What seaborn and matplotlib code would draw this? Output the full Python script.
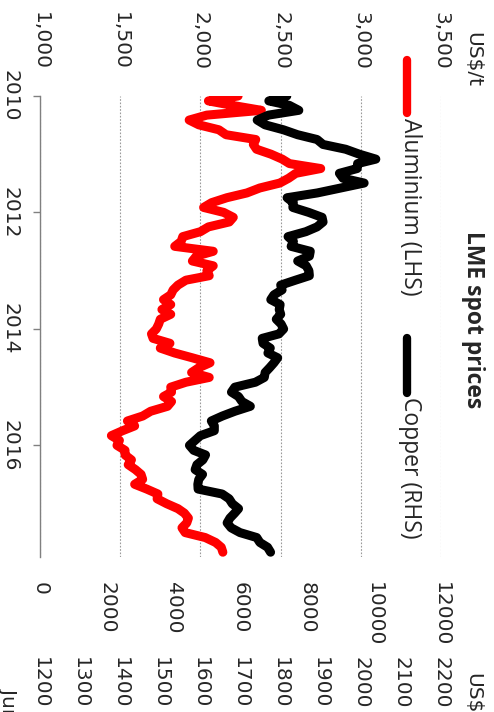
import matplotlib
matplotlib.use("Agg")
import pandas as pd
import seaborn as sns
import matplotlib.pyplot as plt
import matplotlib.dates as mdates
from matplotlib.lines import Line2D

# monthly LME spot prices, Jan 2010 - Nov 2017
months = pd.date_range("2010-01-01", "2017-11-01", freq="MS")

aluminium = [
    2235, 2050, 2200, 2380, 2040, 1930, 1990, 2115, 2160, 2345, 2330, 2350,
    2440, 2510, 2555, 2750, 2595, 2550, 2495, 2370, 2290, 2165, 2070, 2020,
    2145, 2205, 2180, 2050, 2000, 1890, 1880, 1840, 2080, 1975, 1950, 2080,
    2040, 2055, 1910, 1860, 1830, 1815, 1770, 1815, 1760, 1815, 1750, 1740,
    1725, 1695, 1705, 1810, 1750, 1840, 1950, 2060, 1990, 1945, 2055, 1910,
    1815, 1820, 1770, 1820, 1795, 1690, 1640, 1545, 1590, 1515, 1445, 1495,
    1480, 1530, 1530, 1570, 1550, 1595, 1630, 1640, 1590, 1665, 1735, 1730,
    1790, 1860, 1900, 1925, 1915, 1885, 1905, 2030, 2095, 2130, 2140,
]

copper = [
    7386, 6848, 7463, 7745, 6838, 6499, 6735, 7284, 7709, 8292, 8470, 9147,
    9556, 10050, 9503, 9493, 8960, 9067, 9700, 9000, 8300, 7394, 7581, 7566,
    8040, 8441, 8471, 8289, 7955, 7423, 7584, 7515, 8088, 8062, 7711, 7966,
    8047, 8061, 7646, 7203, 7245, 7000, 6906, 7186, 7159, 7203, 7071, 7215,
    7291, 7149, 6650, 6674, 6891, 6821, 7113, 7002, 6872, 6737, 6712, 6446,
    5831, 5729, 5940, 6042, 6295, 5833, 5457, 5127, 5217, 5216, 4800, 4638,
    4472, 4599, 4954, 4873, 4696, 4642, 4864, 4751, 4723, 4731, 5450, 5660,
    5755, 5941, 5825, 5684, 5600, 5720, 5985, 6485, 6580, 6810, 6900,
]

alu_ticks = [1000, 1500, 2000, 2500, 3000, 3500]
cu_ticks = [0, 2000, 4000, 6000, 8000, 10000, 12000]
next_ticks = [1200, 1300, 1400, 1500, 1600, 1700, 1800, 1900, 2000, 2100, 2200]
year_labels = ["2010", "2012", "2014", "2016"]

df = pd.DataFrame({"date": months, "aluminium": aluminium, "copper": copper})

sns.set_theme(style="white")
plt.rcParams["font.family"] = ["DejaVu Sans"]
TXT = ["Open Sans", "DejaVu Sans"]
FS = 14.5
GREY = "#808080"

fig = plt.figure(figsize=(4.94, 7.12), dpi=100)
ax = fig.add_axes([0.081, 0.2177, 0.8117, 0.6475])
ax2 = ax.twiny()

line_kw = dict(lw=6.5, solid_capstyle="round", solid_joinstyle="round")
sns.lineplot(data=df, x="aluminium", y="date", orient="y", sort=False,
             estimator=None, color="red", legend=False, ax=ax, **line_kw)
sns.lineplot(data=df, x="copper", y="date", orient="y", sort=False,
             estimator=None, color="black", legend=False, ax=ax2, **line_kw)

# time runs downwards (the chart is turned a quarter turn)
ax.set_ylim(mdates.date2num(pd.Timestamp("2017-12-01")),
            mdates.date2num(pd.Timestamp("2010-01-01")))
ax.set_yticks(mdates.date2num(pd.to_datetime(year_labels)))
ax.set_yticklabels(year_labels)
ax.tick_params(axis="y", left=True, length=5, width=1, color=GREY, pad=10,
               labelsize=FS, labelrotation=-90)
for t in ax.get_yticklabels():
    t.set_va("center")

# aluminium axis (LHS) along the top
ax.set_xlim(1000, 3500)
ax.xaxis.tick_top()
ax.set_xticks(alu_ticks)
ax.set_xticklabels([f"{v:,}" for v in alu_ticks])
ax.tick_params(axis="x", length=0, pad=19, labelsize=FS, labelrotation=-90)
ax.grid(True, axis="x", color="#9a9a9a", ls=(0, (1.5, 1.5)), lw=0.8)
ax.grid(False, axis="y")

# copper axis (RHS) along the bottom
ax2.set_xlim(0, 12000)
ax2.xaxis.tick_bottom()
ax2.set_xticks(cu_ticks)
ax2.set_xticklabels([str(v) for v in cu_ticks])
ax2.tick_params(axis="x", length=0, pad=18, labelsize=FS, labelrotation=-90)
ax2.grid(False)

for a in (ax, ax2):
    a.set_xlabel("")
    a.set_ylabel("")
    for s in a.spines.values():
        s.set_visible(False)
ax.spines["left"].set_visible(True)
ax.spines["left"].set_color(GREY)
ax.spines["left"].set_linewidth(1)

# neighbouring panel, mostly cut off by the figure edge
ax3 = fig.add_axes([0.081, -0.35, 0.8117, 0.3177])
ax3.set_xlim(1200, 2200)
ax3.xaxis.tick_top()
ax3.set_xticks(next_ticks)
ax3.set_xticklabels([str(v) for v in next_ticks])
ax3.tick_params(axis="x", length=0, pad=19, labelsize=FS, labelrotation=-90)
ax3.set_yticks([])
ax3.patch.set_visible(False)
for s in ax3.spines.values():
    s.set_visible(False)

# titles and units
fig.text(0.9575, 0.5506, "LME spot prices", rotation=-90, ha="center",
         va="center", fontsize=16.5, fontweight="bold", family=TXT)
fig.text(0.9575, 0.955, "US$/t", rotation=-90, ha="center", va="top",
         fontsize=FS)
fig.text(0.9575, 0.0548, "US$", rotation=-90, ha="center", va="top",
         fontsize=FS)
fig.text(0.018, 0.0337, "Jun-17", rotation=-90, ha="center", va="top",
         fontsize=FS)

# legend drawn by hand, turned with the chart
fig.add_artist(Line2D([0.824, 0.824], [0.9157, 0.8413], transform=fig.transFigure,
                      color="red", lw=6, solid_capstyle="round"))
fig.text(0.830, 0.834, "Aluminium (LHS)", rotation=-90, ha="center", va="top",
         fontsize=16.5, family=TXT)
fig.add_artist(Line2D([0.824, 0.824], [0.5253, 0.4480], transform=fig.transFigure,
                      color="black", lw=6, solid_capstyle="round"))
fig.text(0.830, 0.4424, "Copper (RHS)", rotation=-90, ha="center", va="top",
         fontsize=16.5, family=TXT)

fig.savefig("out.png", dpi=100)
